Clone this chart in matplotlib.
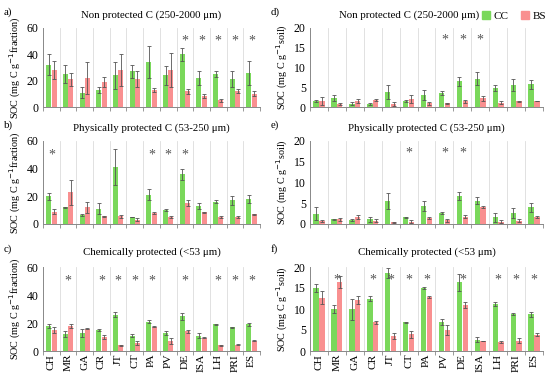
import numpy as np
import matplotlib
matplotlib.use("Agg")
import matplotlib.pyplot as plt
from matplotlib.patches import Patch

plt.rcParams['font.family'] = ['Liberation Serif', 'DejaVu Serif']

sites = ["CH", "MR", "GA", "CR", "JT", "CT", "PA", "PV", "DE", "ISA", "LH", "PRI", "ES"]

# a) non protected C, per g fraction
a_cc = [32, 25, 11, 13, 24, 27, 34, 24, 40, 22, 25, 21, 26]
a_cc_err = [8, 7, 4, 2, 10, 5, 12, 7, 5, 5, 2, 6, 9]
a_bs = [28, 21, 22, 19, 28, 21, 13, 28, 12, 8, 5, 12, 10]
a_bs_err = [7, 5, 12, 4, 12, 6, 1.5, 13, 2, 1.5, 1, 1.5, 2]
a_sig = ["DE", "ISA", "LH", "PRI", "ES"]

# b) physically protected C, per g fraction
b_cc = [20, 12, 6.5, 11, 41, 5, 21, 10, 36, 13, 16, 17, 18]
b_cc_err = [2.5, 0.5, 1, 4, 13, 0.3, 4, 0.5, 4, 2, 1, 3, 3]
b_bs = [9, 23, 12, 5.5, 5.5, 3, 8, 5, 15, 8.5, 5, 5, 7]
b_bs_err = [2, 9, 4, 0.5, 1, 1, 1, 0.5, 2, 0.5, 0.5, 1, 0.5]
b_sig = ["CH", "PA", "PV", "DE"]

# c) chemically protected C, per g fraction
c_cc = [18, 12, 13, 15, 26, 11, 21, 13, 25, 11, 19, 17, 19]
c_cc_err = [1.5, 2, 3, 0.5, 2, 1, 1, 1.5, 2.5, 2, 0.5, 0.5, 1]
c_bs = [15, 18, 16, 10, 4, 5.5, 17.5, 7, 14, 9.5, 4, 4.5, 7.5]
c_bs_err = [2, 1.5, 0.5, 1.5, 0.5, 1.5, 0.5, 2, 1, 0.3, 0.5, 0.3, 0.5]
c_sig = ["MR", "CR", "JT", "CT", "PA", "DE", "LH", "PRI", "ES"]

# d) non protected C, per g soil
d_cc = [1.5, 2.2, 0.8, 0.7, 3.8, 1.5, 3.0, 3.6, 6.5, 7.2, 4.8, 5.6, 5.7]
d_cc_err = [0.3, 0.8, 0.4, 0.2, 1.7, 0.3, 1.3, 0.5, 1.2, 1.6, 0.8, 1.5, 1.1]
d_bs = [1.6, 0.7, 1.4, 1.7, 0.8, 2.1, 0.9, 0.9, 1.4, 2.2, 1.1, 1.4, 1.5]
d_bs_err = [1.0, 0.2, 0.5, 0.3, 0.5, 1.0, 0.3, 0.2, 0.3, 0.6, 0.3, 0.2, 0.1]
d_sig = ["PV", "DE", "ISA"]

# e) physically protected C, per g soil
e_cc = [2.5, 1.1, 1.0, 1.1, 5.5, 1.6, 4.3, 2.6, 6.7, 5.6, 1.6, 2.6, 4.0]
e_cc_err = [1.5, 0.2, 0.2, 0.6, 1.9, 0.2, 1.2, 0.2, 1.0, 0.8, 1.0, 1.2, 1.0]
e_bs = [0.8, 1.1, 1.7, 0.8, 0.4, 0.6, 1.5, 0.9, 1.8, 4.1, 0.6, 0.8, 1.7]
e_bs_err = [0.2, 0.4, 0.4, 0.3, 0.2, 0.3, 0.2, 0.3, 0.4, 0.3, 0.4, 0.4, 0.3]
e_sig = ["CT", "PV", "DE"]

# f) chemically protected C, per g soil
f_cc = [15, 10, 9.9, 12.4, 18.5, 6.8, 15, 7, 16.4, 2.7, 11.1, 8.8, 8.8]
f_cc_err = [1, 1, 2.5, 0.6, 1.2, 0.2, 0.2, 0.7, 2, 0.6, 0.5, 0.3, 0.6]
f_bs = [12.7, 16.4, 12.2, 6.8, 3.5, 4, 12.8, 5.1, 11, 2.4, 2.2, 2.5, 3.9]
f_bs_err = [1.5, 1.5, 1, 0.4, 0.7, 0.8, 0.2, 1.2, 0.7, 0.1, 0.2, 0.6, 0.3]
f_sig = ["MR", "CR", "JT", "CT", "PA", "DE", "LH", "PRI", "ES"]

green = '#7ad85b'
pink = '#f99090'
gridc = '#dcdcdc'

W, H = 550.0, 382.0
fig = plt.figure(figsize=(W / 100, H / 100), dpi=100)

# axes boxes in pixels: (left, right) and (top, bottom)
left_x = (43, 260)
right_x = (310, 543)
rows_y = [(28, 107), (141, 224), (267, 351)]
title_y = [15, 128, 252]

def make_ax(xr, yr):
    return fig.add_axes([xr[0] / W, 1 - yr[1] / H, (xr[1] - xr[0]) / W, (yr[1] - yr[0]) / H])

def draw_panel(ax, cc, cc_err, bs, bs_err, sig, ymax, step, ylabel, show_x, star_y):
    x = np.arange(len(sites))
    w = 0.3
    ekw = dict(ecolor='#555555', elinewidth=0.6, capsize=1.2, capthick=0.6)
    ax.bar(x - 0.16, cc, w, color=green, yerr=cc_err, error_kw=ekw, zorder=2)
    ax.bar(x + 0.16, bs, w, color=pink, yerr=bs_err, error_kw=ekw, zorder=2)
    for s in sig:
        ax.text(sites.index(s), star_y, '*', ha='center', va='center',
                fontsize=10, color='#555555')
    ax.set_xlim(-0.5, len(sites) - 0.5)
    ax.set_ylim(0, ymax)
    ax.set_yticks(np.arange(0, ymax + 0.1, step))
    ax.tick_params(axis='y', labelsize=8.5, length=0, pad=3)
    bounds = np.arange(-0.5, len(sites), 1.0)
    for b in bounds[1:-1]:
        ax.axvline(b, color=gridc, lw=0.6, zorder=0)
    ax.set_xticks(bounds, minor=True)
    ax.tick_params(axis='x', which='minor', length=3, width=0.6, color='#888888', direction='out')
    if show_x:
        ax.set_xticks(x)
        ax.set_xticklabels(sites, rotation=90, fontsize=8.2)
        ax.tick_params(axis='x', which='major', length=0, pad=2)
    else:
        ax.set_xticks([])
    for sp in ['top', 'right']:
        ax.spines[sp].set_visible(False)
    for sp in ['left', 'bottom']:
        ax.spines[sp].set_color('#888888')
        ax.spines[sp].set_linewidth(0.7)
    ax.set_ylabel(ylabel, fontsize=7.3, labelpad=3)

lab_frac = 'SOC (mg C g$^{-1}$fraction)'
lab_soil = 'SOC (mg C g$^{-1}$soil)'
titles = ['Non protected C (250-2000 \u03bcm)',
          'Physically protected C (53-250 \u03bcm)',
          'Chemically protected (<53 \u03bcm)']

left_panels = [
    (a_cc, a_cc_err, a_bs, a_bs_err, a_sig),
    (b_cc, b_cc_err, b_bs, b_bs_err, b_sig),
    (c_cc, c_cc_err, c_bs, c_bs_err, c_sig),
]
right_panels = [
    (d_cc, d_cc_err, d_bs, d_bs_err, d_sig),
    (e_cc, e_cc_err, e_bs, e_bs_err, e_sig),
    (f_cc, f_cc_err, f_bs, f_bs_err, f_sig),
]
letters_left = ['a)', 'b)', 'c)']
letters_right = ['d)', 'e)', 'f)']

for i in range(3):
    last = (i == 2)
    ax = make_ax(left_x, rows_y[i])
    draw_panel(ax, *left_panels[i], 60, 20, lab_frac, last, 50)
    fig.text(sum(left_x) / 2 / W, 1 - title_y[i] / H, titles[i], ha='center', va='center', fontsize=7.8)
    fig.text(4 / W, 1 - (title_y[i] - 3) / H, letters_left[i], ha='left', va='center', fontsize=7.8)

    ax = make_ax(right_x, rows_y[i])
    draw_panel(ax, *right_panels[i], 20, 5, lab_soil, last, 17)
    tx = 409 if i == 0 else sum(right_x) / 2
    fig.text(tx / W, 1 - title_y[i] / H, titles[i], ha='center', va='center', fontsize=7.8)
    fig.text(271 / W, 1 - (title_y[i] - 3) / H, letters_right[i], ha='left', va='center', fontsize=7.8)

handles = [Patch(color=green, label='CC'), Patch(color=pink, label='BS')]
fig.legend(handles=handles, loc='center left', bbox_to_anchor=(482 / W, 1 - 16 / H),
           ncol=2, frameon=False, fontsize=8, handlelength=0.7, handleheight=0.7,
           handletextpad=0.3, columnspacing=1.2, borderaxespad=0, borderpad=0)

fig.savefig('out.png', dpi=100)
